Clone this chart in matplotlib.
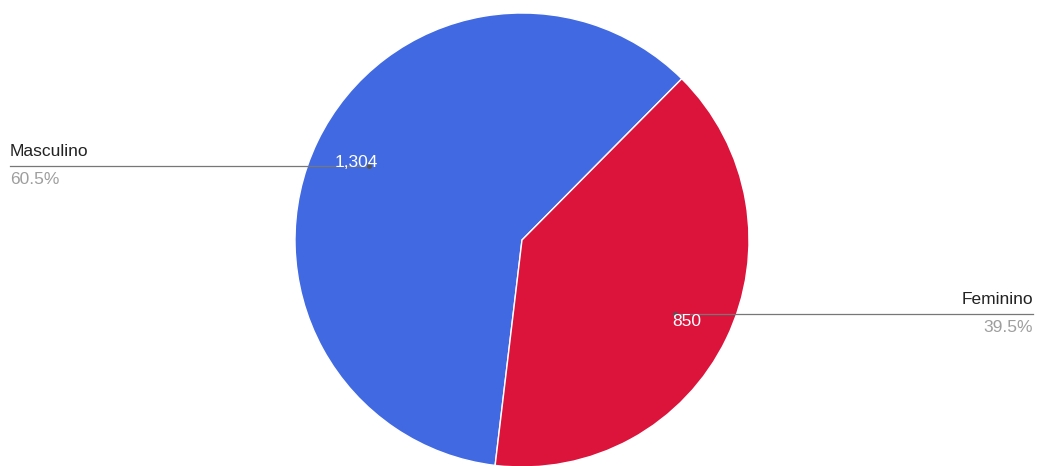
import matplotlib
matplotlib.use("Agg")
import matplotlib.pyplot as plt
import numpy as np

plt.rcParams['font.family'] = ['Liberation Sans', 'DejaVu Sans']

labels = ["Masculino", "Feminino"]
values = [1304, 850]
colors = ["#4169E1", "#DC143C"]

W, H = 1037, 466
fig = plt.figure(figsize=(W / 100, H / 100), dpi=100)
ax = fig.add_axes([0, 0, 1, 1])

cx, cy, R = 522, 226, 227
start = -96.8
wedges, _ = ax.pie(values, colors=colors, startangle=start, counterclock=False,
                   center=(cx, cy), radius=R, frame=True,
                   wedgeprops=dict(edgecolor="white", linewidth=1))
ax.set_xlim(0, W)
ax.set_ylim(0, H)
ax.set_aspect("equal")
ax.axis("off")

total = sum(values)
for i, w in enumerate(wedges):
    mid = np.deg2rad((w.theta1 + w.theta2) / 2)
    px = cx + 0.75 * R * np.cos(mid)
    py = cy + 0.75 * R * np.sin(mid)
    pct = "{:.1f}%".format(100 * values[i] / total)
    left = np.cos(mid) < 0
    xt = 10 if left else 1033
    ha = "left" if left else "right"
    ax.plot([px, xt], [py, py], color="#777777", lw=0.9, zorder=3)
    ax.plot(px, py, "o", color="#555555", ms=2.5, zorder=3)
    ax.text(xt, py + 7, labels[i], ha=ha, va="bottom", fontsize=12.5, color="#222222")
    ax.text(xt, py - 6, pct, ha=ha, va="top", fontsize=12.5, color="#9e9e9e")
    ax.text(px - 12 if left else px + 11, py + (3 if left else -7),
            "{:,}".format(values[i]), ha="center", va="center", fontsize=12.5,
            color="white", zorder=4)

fig.savefig("out.png", dpi=100)
